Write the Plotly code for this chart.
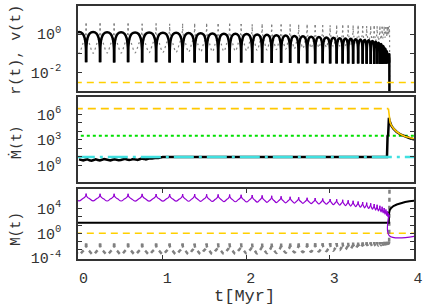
import plotly.graph_objects as go

FONT = "Liberation Mono"
TXT = "#333333"

# ---------------- data ----------------
# pericentre passage times [Myr]
peri_t = [-0.082, 0.085, 0.252, 0.420, 0.587, 0.755, 0.922, 1.084, 1.239, 1.383,
          1.526, 1.664, 1.801, 1.939, 2.071, 2.190, 2.304, 2.417, 2.525, 2.627,
          2.728, 2.824, 2.914, 3.003, 3.081, 3.153, 3.219, 3.278, 3.338, 3.392,
          3.440, 3.488, 3.530, 3.565, 3.598, 3.625, 3.649, 3.670, 3.687, 3.700, 3.709]

# log10 r at pericentre (41) and apocentre (40)
r_peri_log = [-1.46, -1.47, -1.47, -1.48, -1.47, -1.48, -1.47, -1.48, -1.48, -1.49,
              -1.48, -1.49, -1.50, -1.49, -1.50, -1.50, -1.51, -1.50, -1.51, -1.52,
              -1.52, -1.53, -1.52, -1.53, -1.54, -1.53, -1.54, -1.55, -1.54, -1.55,
              -1.55, -1.56, -1.56, -1.55, -1.56, -1.56, -1.55, -1.55, -1.54, -1.52, -1.50]
r_apo_log = [0.10, 0.10, 0.09, 0.09, 0.08, 0.08, 0.07, 0.06, 0.05, 0.04,
             0.03, 0.02, 0.01, 0.00, -0.02, -0.04, -0.06, -0.08, -0.10, -0.12,
             -0.14, -0.16, -0.18, -0.20, -0.22, -0.24, -0.25, -0.27, -0.29, -0.31,
             -0.33, -0.36, -0.40, -0.46, -0.52, -0.62, -0.75, -0.90, -1.05, -1.20]
r_end_t = [3.709, 3.711, 3.7125]
r_end_log = [-1.50, -1.05, -4.0]

# log10 v at pericentre (41) and apocentre (40)
v_peri_log = [0.55, 0.55, 0.56, 0.55, 0.55, 0.54, 0.55, 0.54, 0.54, 0.53,
              0.53, 0.52, 0.53, 0.52, 0.51, 0.51, 0.50, 0.50, 0.49, 0.48,
              0.48, 0.47, 0.46, 0.46, 0.45, 0.45, 0.44, 0.44, 0.43, 0.42,
              0.42, 0.41, 0.40, 0.40, 0.39, 0.38, 0.38, 0.37, 0.36, 0.36, 0.35]
v_apo_log = [-1.00, -1.00, -0.99, -0.99, -0.98, -0.97, -0.96, -0.95, -0.94, -0.93,
             -0.92, -0.90, -0.89, -0.87, -0.85, -0.83, -0.81, -0.79, -0.77, -0.75,
             -0.73, -0.71, -0.69, -0.66, -0.63, -0.60, -0.57, -0.54, -0.51, -0.48,
             -0.45, -0.42, -0.38, -0.34, -0.29, -0.24, -0.18, -0.12, -0.06, 0.00]
v_end_t = [3.709, 3.711, 3.713]
v_end_log = [0.35, 0.40, -3.5]

r_ref_log = -2.53          # gold dashed level, top panel

# middle panel: accretion rate
mdot_early_t = [round(0.025 * i, 3) for i in range(41)]
mdot_early_log = [0.70, 0.62, 0.58, 0.66, 0.72, 0.60, 0.55, 0.63, 0.70, 0.64,
                  0.58, 0.66, 0.74, 0.68, 0.60, 0.57, 0.65, 0.71, 0.66, 0.59,
                  0.63, 0.72, 0.78, 0.69, 0.62, 0.67, 0.75, 0.70, 0.64, 0.72,
                  0.80, 0.76, 0.70, 0.78, 0.84, 0.80, 0.86, 0.90, 0.88, 0.93, 0.96]
mdot_late_t = [1.000, 3.683, 3.684, 3.690, 3.697, 3.700, 3.706, 3.712, 3.720, 3.735,
               3.760, 3.800, 3.850, 3.900, 3.950, 4.000, 4.050]
mdot_late_log = [0.97, 0.97, 3.30, 3.45, 3.60, 4.70, 5.60, 5.30, 5.00, 4.66,
                 4.32, 3.93, 3.60, 3.38, 3.22, 3.08, 3.00]
edd_dash_t = [-0.05, 3.700]
edd_dash_log = [6.67, 6.67]
edd_t = [3.700, 3.702, 3.706, 3.712, 3.720, 3.735, 3.760, 3.800, 3.850, 3.900, 3.950, 4.000, 4.050]
edd_log = [6.67, 6.40, 5.90, 5.40, 5.05, 4.70, 4.35, 3.95, 3.62, 3.40, 3.24, 3.10, 3.02]
green_log = 3.47
cyan_log = 0.97
span_t = [-0.05, 4.05]

# bottom panel: masses
m_peak_log = [6.40, 6.40, 6.38, 6.38, 6.37, 6.36, 6.35, 6.34, 6.33, 6.32,
              6.30, 6.28, 6.25, 6.22, 6.18, 6.12, 6.05, 5.98, 5.90, 5.82,
              5.75, 5.68, 5.62, 5.55, 5.48, 5.40, 5.33, 5.25, 5.15, 5.05,
              4.95, 4.85, 4.72, 4.60, 4.45, 4.30, 4.10, 3.85, 3.55, 3.25, 3.00]
m_trough_log = [5.22, 5.22, 5.21, 5.21, 5.20, 5.20, 5.19, 5.18, 5.17, 5.16,
                5.14, 5.12, 5.09, 5.06, 5.03, 5.00, 4.96, 4.92, 4.88, 4.84,
                4.79, 4.74, 4.70, 4.62, 4.54, 4.46, 4.38, 4.30, 4.20, 4.10,
                4.00, 3.88, 3.75, 3.60, 3.45, 3.30, 3.10, 2.90, 2.70, 2.55]
m_end_t = [3.709, 3.711, 4.050]
m_end_log = [3.00, -0.40, -0.40]

g_peak_log = [-1.65, -1.66, -1.64, -1.66, -1.65, -1.67, -1.65, -1.66, -1.66, -1.67,
              -1.66, -1.66, -1.65, -1.66, -1.65, -1.65, -1.64, -1.64, -1.63, -1.62,
              -1.62, -1.61, -1.60, -1.58, -1.56, -1.54, -1.52, -1.50, -1.48, -1.46,
              -1.45, -1.43, -1.42, -1.41, -1.40, -1.39, -1.38, -1.37, -1.36, -1.35, -1.35]
g_trough_log = [-3.45, -3.45, -3.44, -3.44, -3.43, -3.42, -3.41, -3.40, -3.38, -3.36,
                -3.34, -3.32, -3.30, -3.28, -3.25, -3.22, -3.19, -3.15, -3.10, -3.05,
                -3.00, -2.94, -2.88, -2.80, -2.72, -2.64, -2.55, -2.46, -2.37, -2.28,
                -2.20, -2.12, -2.05, -1.98, -1.92, -1.86, -1.80, -1.75, -1.71, -1.68]
g_end_t = [3.709, 3.713]
g_end_log = [-1.35, 7.5]

bh_t = [-0.05, 3.705, 3.707, 3.715, 3.730, 3.760, 3.800, 3.840, 3.900, 3.950, 4.000, 4.050]
bh_log = [1.71, 1.71, 3.20, 3.70, 4.05, 4.40, 4.65, 4.85, 5.05, 5.17, 5.30, 5.33]
m_ref_log = 0.0

# ---------------- orbit-shape templates (style) ----------------
FR = [0.0, 0.02, 0.1, 0.25, 0.5, 0.75, 0.9, 0.98, 1.0]
W_R = [0.0, 0.5, 0.8, 0.95, 1.0, 0.95, 0.8, 0.5, 0.0]
W_V = [0.0, 0.27, 0.5, 0.7, 1.0, 0.7, 0.5, 0.27, 0.0]


def arcs(tp, edge, mid, weights, end_t, end_log):
    xs, ys = [], []
    for k in range(len(tp) - 1):
        t0, t1 = tp[k], tp[k + 1]
        for f, w in zip(FR, weights):
            base = edge[k] + (edge[k + 1] - edge[k]) * f
            xs.append(t0 + (t1 - t0) * f)
            ys.append(10 ** (base + w * (mid[k] - base)))
        xs.append(None)
        ys.append(None)
    xs += end_t
    ys += [10 ** v for v in end_log]
    return xs, ys


def lin(vals):
    return [10 ** v for v in vals]


fig = go.Figure()

# ---- top panel ----
vx, vy = arcs(peri_t, v_peri_log, v_apo_log, W_V, v_end_t, v_end_log)
fig.add_trace(go.Scatter(x=vx, y=vy, mode="lines", xaxis="x2", yaxis="y",
                         line=dict(color="#808080", width=1.2, dash="2px,3px", shape="spline")))
rx, ry = arcs(peri_t, r_peri_log, r_apo_log, W_R, r_end_t, r_end_log)
fig.add_trace(go.Scatter(x=rx, y=ry, mode="lines", xaxis="x2", yaxis="y",
                         line=dict(color="black", width=2.5, shape="spline")))
fig.add_trace(go.Scatter(x=span_t, y=lin([r_ref_log, r_ref_log]), mode="lines", xaxis="x2", yaxis="y",
                         line=dict(color="#FFD000", width=1.6, dash="7px,5px")))

# ---- middle panel ----
fig.add_trace(go.Scatter(x=span_t, y=lin([green_log, green_log]), mode="lines", xaxis="x3", yaxis="y2",
                         line=dict(color="#00E000", width=2, dash="3px,3px")))
fig.add_trace(go.Scatter(x=edd_dash_t, y=lin(edd_dash_log), mode="lines", xaxis="x3", yaxis="y2",
                         line=dict(color="#FFC800", width=1.6, dash="8px,5px")))
fig.add_trace(go.Scatter(x=mdot_early_t + mdot_late_t, y=lin(mdot_early_log + mdot_late_log),
                         mode="lines", xaxis="x3", yaxis="y2",
                         line=dict(color="black", width=2.5)))
fig.add_trace(go.Scatter(x=span_t, y=lin([cyan_log, cyan_log]), mode="lines", xaxis="x3", yaxis="y2",
                         line=dict(color="#40E0E0", width=2.5, dash="20px,5px,3px,5px")))
fig.add_trace(go.Scatter(x=edd_t, y=lin(edd_log), mode="lines", xaxis="x3", yaxis="y2",
                         line=dict(color="#FFC800", width=1.6)))

# ---- bottom panel ----
fig.add_trace(go.Scatter(x=span_t, y=lin([m_ref_log, m_ref_log]), mode="lines", xaxis="x", yaxis="y3",
                         line=dict(color="#FFD000", width=1.6, dash="7px,5px")))
gx, gy = arcs(peri_t, g_peak_log, g_trough_log, W_V, g_end_t, g_end_log)
fig.add_trace(go.Scatter(x=gx, y=gy, mode="lines", xaxis="x", yaxis="y3",
                         line=dict(color="#808080", width=2.5, dash="4px,4px", shape="spline")))
fig.add_trace(go.Scatter(x=bh_t, y=lin(bh_log), mode="lines", xaxis="x", yaxis="y3",
                         line=dict(color="black", width=2)))
px_, py_ = arcs(peri_t, m_peak_log, m_trough_log, W_V, m_end_t, m_end_log)
fig.add_trace(go.Scatter(x=px_, y=py_, mode="lines", xaxis="x", yaxis="y3",
                         line=dict(color="#9400D3", width=1.2, shape="spline")))

XR = [-0.012, 4.006]
frame = dict(showline=True, linecolor="#333333", linewidth=1.5, mirror=True,
             showgrid=False, zeroline=False, automargin=False)
yfont = dict(family=FONT, size=15, color=TXT)


def sup(e):
    return "10<sup>%s</sup>" % e


def title(text, x, y, size, angle=0, family=FONT):
    return dict(text=text, xref="paper", yref="paper", x=x, y=y, xanchor="center",
                yanchor="middle", textangle=angle, showarrow=False,
                font=dict(family=family, size=size, color=TXT))


fig.update_layout(
    width=436, height=305,
    margin=dict(l=78, r=22, t=6, b=46, autoexpand=False),
    paper_bgcolor="white", plot_bgcolor="white",
    showlegend=False,
    font=dict(family=FONT, color=TXT),
    xaxis=dict(domain=[0, 1], anchor="y3", range=XR, tickvals=[0, 1, 2, 3, 4],
               ticktext=["\u00a00", "\u00a01", "\u00a02", "\u00a03", "\u00a04"],
               ticks="inside", ticklen=4, tickcolor="#333333", ticklabelstandoff=4,
               tickfont=dict(family=FONT, size=15, color=TXT), **{**frame, "mirror": "ticks"}),
    xaxis2=dict(domain=[0, 1], anchor="y", range=XR, matches="x", showticklabels=False,
                ticks="", **frame),
    xaxis3=dict(domain=[0, 1], anchor="y2", range=XR, matches="x", showticklabels=False,
                ticks="", **frame),
    yaxis=dict(domain=[0.664, 1], anchor="x2", type="log", range=[-2.97, 1.46],
               tickvals=[1, 0.1, 0.01], ticktext=[sup(0), "", sup("-2")],
               ticks="inside", ticklen=4, tickcolor="#333333", tickfont=yfont,
               ticklabelstandoff=12, **{**frame, "mirror": "ticks"}),
    yaxis2=dict(domain=[0.3043, 0.6403], anchor="x3", type="log", range=[-1.96, 8.04],
                tickvals=[10 ** k for k in range(7)],
                ticktext=[sup(0), "", "", sup(3), "", "", sup(6)],
                ticks="inside", ticklen=4, tickcolor="#333333", tickfont=yfont,
                ticklabelstandoff=12, **{**frame, "mirror": "ticks"}),
    yaxis3=dict(domain=[0, 0.2767], anchor="x", type="log", range=[-4.15, 7.15],
                tickvals=[1e4, 10 ** (8 / 3), 10 ** (4 / 3), 1, 10 ** (-4 / 3), 10 ** (-8 / 3), 1e-4],
                ticktext=[sup(4), "", "", sup(0), "", "", sup("-4")],
                ticks="inside", ticklen=4, tickcolor="#333333", tickfont=yfont,
                ticklabelstandoff=12, **{**frame, "mirror": "ticks"}),
    annotations=[
        title("r(t), v(t)", -0.185, 0.826, 15, -90),
        title("\u1e40(t)", -0.185, 0.463, 14, -90, "DejaVu Sans Mono"),
        title("M(t)", -0.185, 0.119, 14, -90),
        title("t[Myr]", 0.497, -0.150, 17),
    ],
)

fig.write_html("out.html", config={"displayModeBar": False},
               post_script="document.body.style.margin='0px';")
